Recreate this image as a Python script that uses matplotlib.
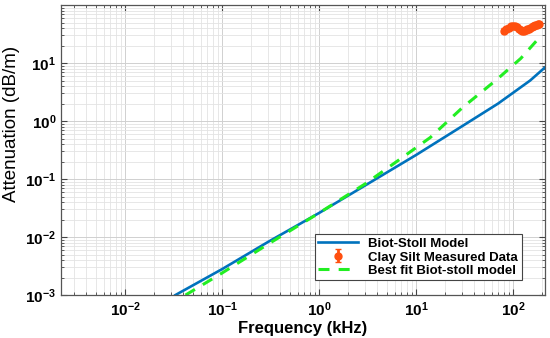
import matplotlib
matplotlib.use("Agg")
import matplotlib.pyplot as plt
import numpy as np

plt.rcParams['font.family'] = ['Liberation Sans', 'DejaVu Sans']

# Biot-Stoll model curve
biot_freq = [0.033, 0.1, 0.3, 1, 3, 10, 30, 70, 150, 215]
biot_atten = [0.001, 0.0028, 0.0083, 0.026, 0.078, 0.26, 0.82, 2.0, 5.0, 8.5]

# best fit Biot-Stoll model
fit_freq = [0.042, 0.1, 0.3, 1, 3, 6.3, 14, 30, 68, 120, 185]
fit_atten = [0.001, 0.0024, 0.0076, 0.026, 0.083, 0.2, 0.52, 1.7, 5.2, 12.0, 27.0]

# clay silt measured data
meas_freq = [80, 85, 90, 95, 100, 105, 110, 115, 120, 125, 130,
             135, 140, 145, 150, 155, 160, 165, 170, 175, 180, 185]
meas_atten = [36, 38, 41, 43, 44, 44, 42, 39, 37, 36, 36,
              37, 38, 39, 40, 42, 43, 44, 45, 46, 47, 47]
meas_err = [3.5] * len(meas_freq)

fig = plt.figure(figsize=(5.5, 3.38), dpi=100)
ax = fig.add_axes([0.111, 0.127, 0.880, 0.858])

h1, = ax.plot(biot_freq, biot_atten, color='#0072BD', lw=1.9, label='Biot-Stoll Model')
h2 = ax.errorbar(meas_freq, meas_atten, yerr=meas_err, fmt='o', color='#FF4F0F',
                 ms=5, capsize=2.5, lw=2, label='Clay Silt Measured Data')
h3, = ax.plot(fit_freq, fit_atten, color='#22EE22', lw=2.2, ls='--', dashes=(3.6, 3.0),
              label='Best fit Biot-stoll model')

ax.set_xscale('log')
ax.set_yscale('log')
ax.set_xlim(10 ** -2.66, 10 ** 2.33)
ax.set_ylim(1e-3, 1e2)
ax.set_yticks([1e-3, 1e-2, 1e-1, 1e0, 1e1])

ax.grid(True, which='major', color='#d0d0d0', lw=0.7)
ax.grid(True, which='minor', color='#e3e3e3', lw=0.6)
ax.set_axisbelow(True)

ax.tick_params(which='both', direction='in', top=True, right=True, color='#444444')
ax.tick_params(which='major', length=4, labelsize=11)
ax.tick_params(which='minor', length=2.2)
for lab in ax.get_xticklabels() + ax.get_yticklabels():
    lab.set_fontweight('bold')
for s in ax.spines.values():
    s.set_color('#555555')
    s.set_linewidth(0.9)

ax.set_xlabel('Frequency (kHz)', fontsize=12, fontweight='bold', labelpad=2)
ax.set_ylabel('Attenuation (dB/m)', fontsize=13.5, labelpad=3)
ax.yaxis.set_label_coords(-0.085, 0.59)

leg = ax.legend([h1, h2, h3], [h1.get_label(), 'Clay Silt Measured Data', h3.get_label()],
                loc='lower right', prop={'weight': 'bold', 'size': 9.5},
                fancybox=False, edgecolor='#444444', framealpha=1,
                borderpad=0.25, labelspacing=0.1, handlelength=3.0,
                bbox_to_anchor=(0.965, 0.028))
leg.get_frame().set_linewidth(0.8)

fig.savefig('out.png', dpi=100)
